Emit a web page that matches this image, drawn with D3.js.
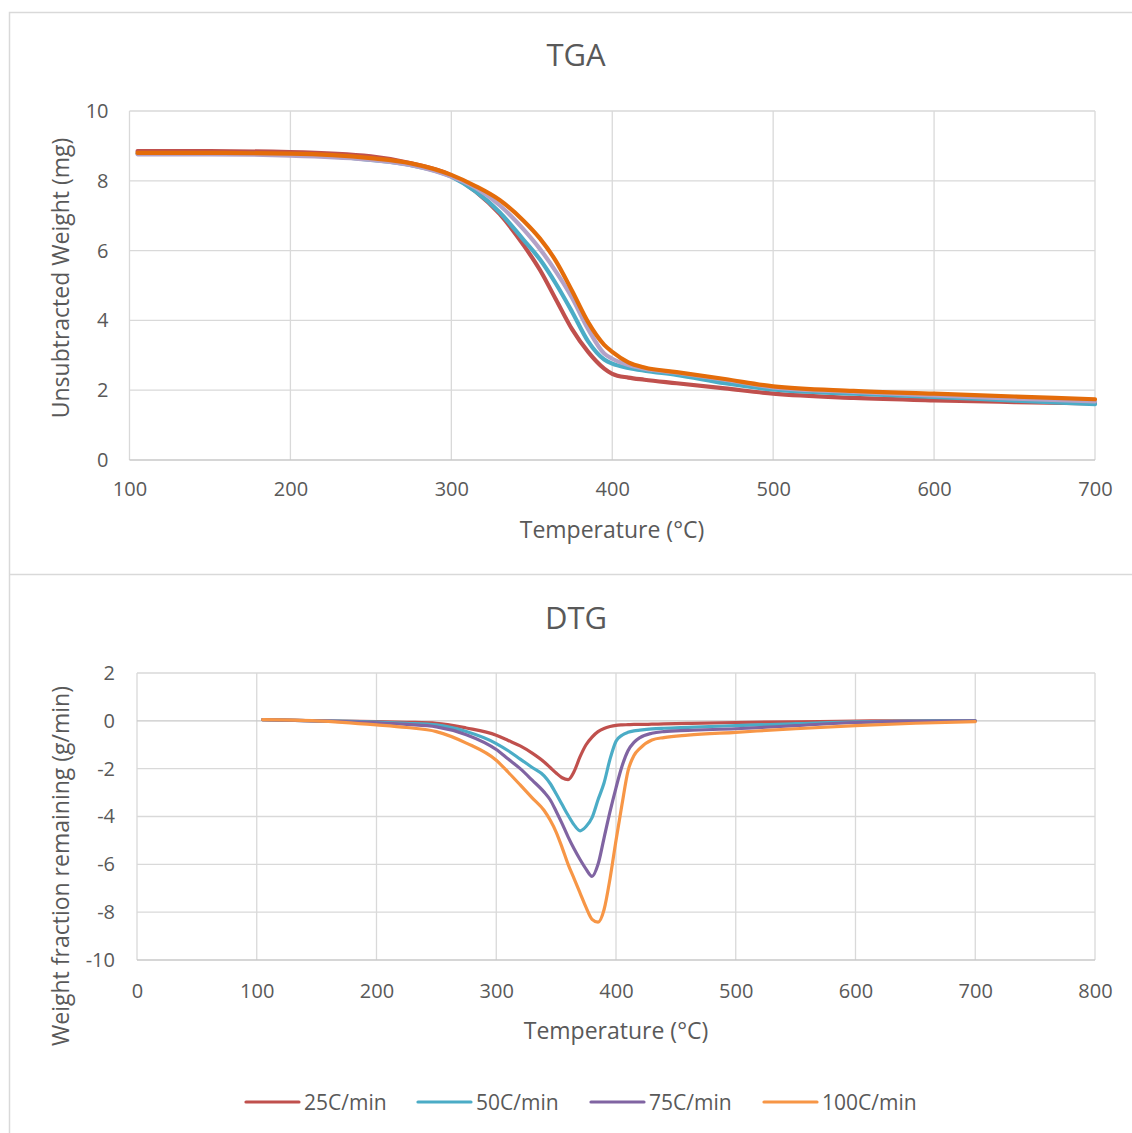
<!DOCTYPE html>
<html>
<head>
<meta charset="utf-8">
<script src="https://cdn.jsdelivr.net/npm/d3@7"></script>
<style>
  body { margin: 0; background: #fff; }
  text { font-family: "Open Sans", sans-serif; fill: #595959; }
</style>
</head>
<body>
<svg id="chart" width="1132" height="1133"></svg>
<script>
// series labels
const seriesNames = ['25C/min', '50C/min', '75C/min', '100C/min'];

// TGA: temperature (°C) vs unsubtracted weight (mg)
const tgaTemps = [105, 150, 200, 250, 275, 300, 315, 330, 345, 355, 365, 375, 385, 395, 400, 410, 420, 440, 470, 500, 550, 600, 650, 700];
const tga25  = [8.85, 8.85, 8.82, 8.70, 8.50, 8.15, 7.70, 7.05, 6.15, 5.45, 4.60, 3.75, 3.10, 2.62, 2.47, 2.36, 2.30, 2.20, 2.05, 1.90, 1.78, 1.71, 1.66, 1.62];
const tga50  = [8.78, 8.78, 8.75, 8.60, 8.45, 8.12, 7.70, 7.10, 6.30, 5.75, 5.05, 4.25, 3.40, 2.88, 2.76, 2.64, 2.56, 2.44, 2.20, 2.02, 1.90, 1.81, 1.70, 1.60];
const tga75  = [8.76, 8.76, 8.72, 8.60, 8.45, 8.12, 7.80, 7.30, 6.60, 6.05, 5.40, 4.65, 3.75, 3.05, 2.90, 2.72, 2.62, 2.50, 2.30, 2.08, 1.95, 1.85, 1.76, 1.68];
const tga100 = [8.80, 8.80, 8.78, 8.65, 8.50, 8.17, 7.85, 7.45, 6.85, 6.35, 5.70, 4.85, 3.95, 3.30, 3.10, 2.80, 2.65, 2.52, 2.32, 2.11, 1.98, 1.90, 1.82, 1.74];

// DTG: temperature (°C) vs weight fraction remaining (g/min)
const dtgTemps = [105, 150, 200, 225, 250, 275, 300, 310, 320, 330, 340, 345, 350, 355, 360, 365, 370, 375, 380, 385, 390, 395, 400, 405, 410, 415, 420, 430, 440, 460, 500, 550, 600, 650, 700];
const dtg25  = [0.05, 0.00, -0.03, -0.06, -0.10, -0.30, -0.60, -0.82, -1.05, -1.35, -1.72, -1.95, -2.18, -2.38, -2.46, -2.12, -1.50, -1.00, -0.68, -0.45, -0.32, -0.24, -0.19, -0.17, -0.16, -0.15, -0.15, -0.14, -0.13, -0.11, -0.07, -0.04, -0.01, 0.00, 0.00];
const dtg50  = [0.05, 0.00, -0.05, -0.10, -0.17, -0.45, -0.95, -1.25, -1.60, -1.95, -2.30, -2.62, -3.05, -3.50, -3.95, -4.35, -4.60, -4.42, -4.05, -3.30, -2.60, -1.60, -0.85, -0.60, -0.48, -0.42, -0.39, -0.34, -0.31, -0.27, -0.20, -0.12, -0.04, -0.01, 0.00];
const dtg75  = [0.05, 0.00, -0.08, -0.15, -0.25, -0.58, -1.20, -1.60, -2.00, -2.48, -2.98, -3.30, -3.78, -4.30, -4.85, -5.35, -5.80, -6.20, -6.50, -6.00, -4.90, -3.80, -2.80, -1.90, -1.25, -0.90, -0.70, -0.52, -0.45, -0.40, -0.33, -0.20, -0.07, -0.02, 0.00];
const dtg100 = [0.05, 0.00, -0.17, -0.28, -0.45, -0.93, -1.65, -2.15, -2.68, -3.22, -3.75, -4.15, -4.65, -5.30, -6.00, -6.60, -7.20, -7.80, -8.30, -8.42, -7.90, -6.60, -5.00, -3.50, -2.10, -1.45, -1.15, -0.80, -0.70, -0.60, -0.48, -0.33, -0.20, -0.10, -0.03];

// tick values
const tgaXTicks = [100, 200, 300, 400, 500, 600, 700];
const tgaYTicks = [0, 2, 4, 6, 8, 10];
const dtgXTicks = [0, 100, 200, 300, 400, 500, 600, 700, 800];
const dtgYTicks = [-10, -8, -6, -4, -2, 0, 2];

const tgaColors = ['#c0504d', '#4bacc6', '#b3a2c7', '#e46c0a'];
const dtgColors = ['#c0504d', '#4bacc6', '#8064a2', '#f79646'];

const svg = d3.select('#chart');

// panel borders
svg.append('rect')
    .attr('x', 9.5).attr('y', 12.5)
    .attr('width', 1140).attr('height', 1140)
    .attr('fill', 'none').attr('stroke', '#d9d9d9').attr('stroke-width', 1.5);
svg.append('line')
    .attr('x1', 9.5).attr('x2', 1132).attr('y1', 574.5).attr('y2', 574.5)
    .attr('stroke', '#d9d9d9').attr('stroke-width', 1.5);

function drawPanel(cfg) {
    const x = d3.scaleLinear().domain(cfg.xDomain).range([cfg.left, cfg.right]);
    const y = d3.scaleLinear().domain(cfg.yDomain).range([cfg.bottom, cfg.top]);
    const g = svg.append('g');

    // gridlines
    g.append('g').selectAll('line').data(cfg.xTicks).enter().append('line')
        .attr('x1', d => x(d)).attr('x2', d => x(d))
        .attr('y1', cfg.top).attr('y2', cfg.bottom)
        .attr('stroke', '#d9d9d9').attr('stroke-width', 1.3);
    g.append('g').selectAll('line').data(cfg.yTicks).enter().append('line')
        .attr('x1', cfg.left).attr('x2', cfg.right)
        .attr('y1', d => y(d)).attr('y2', d => y(d))
        .attr('stroke', d => (d === cfg.yDomain[0] || d === 0) ? '#c8c8c8' : '#d9d9d9')
        .attr('stroke-width', 1.3);

    // axes (labels only)
    const xAxis = g.append('g')
        .attr('transform', 'translate(0,' + cfg.bottom + ')')
        .call(d3.axisBottom(x).tickValues(cfg.xTicks).tickSize(0).tickPadding(cfg.xPad).tickFormat(d => String(d)));
    const yAxis = g.append('g')
        .attr('transform', 'translate(' + cfg.left + ',0)')
        .call(d3.axisLeft(y).tickValues(cfg.yTicks).tickSize(0).tickPadding(cfg.yPad).tickFormat(d => String(d)));
    [xAxis, yAxis].forEach(a => {
        a.select('.domain').remove();
        a.selectAll('text').style('font-family', '"Open Sans", sans-serif')
            .style('font-size', '20px').attr('fill', '#595959');
    });

    // series
    const line = d3.line()
        .x((d, i) => x(cfg.temps[i]))
        .y(d => y(d))
        .curve(d3.curveMonotoneX);
    cfg.series.forEach((s, i) => {
        g.append('path')
            .datum(s)
            .attr('d', line)
            .attr('fill', 'none')
            .attr('stroke', cfg.colors[i])
            .attr('stroke-width', cfg.lineWidth)
            .attr('stroke-linejoin', 'round')
            .attr('stroke-linecap', 'round');
    });

    // titles
    g.append('text')
        .attr('x', 576).attr('y', cfg.titleY)
        .attr('text-anchor', 'middle').style('font-size', '31px')
        .text(cfg.title);
    g.append('text')
        .attr('x', cfg.xTitleX).attr('y', cfg.xTitleY)
        .attr('text-anchor', 'middle').style('font-size', '23px')
        .text('Temperature (°C)');
    g.append('text')
        .attr('transform', 'translate(69,' + cfg.yTitleY + ') rotate(-90)')
        .attr('text-anchor', 'middle').style('font-size', '23px')
        .text(cfg.yTitle);
}

drawPanel({
    title: 'TGA', titleY: 66,
    xDomain: [100, 700], yDomain: [0, 10],
    left: 129.5, right: 1095, top: 111, bottom: 460,
    xTicks: tgaXTicks, yTicks: tgaYTicks, xPad: 22, yPad: 21,
    temps: tgaTemps, series: [tga25, tga50, tga75, tga100],
    colors: tgaColors, lineWidth: 4.2,
    xTitleX: 612, xTitleY: 538,
    yTitle: 'Unsubtracted Weight (mg)', yTitleY: 278
});

drawPanel({
    title: 'DTG', titleY: 629,
    xDomain: [0, 800], yDomain: [-10, 2],
    left: 137, right: 1095, top: 673, bottom: 960,
    xTicks: dtgXTicks, yTicks: dtgYTicks, xPad: 24, yPad: 22,
    temps: dtgTemps, series: [dtg25, dtg50, dtg75, dtg100],
    colors: dtgColors, lineWidth: 3.2,
    xTitleX: 616, xTitleY: 1039,
    yTitle: 'Weight fraction remaining (g/min)', yTitleY: 866
});

// legend
const legendX = [246, 418, 591, 764];
const legend = svg.append('g').selectAll('g').data(seriesNames).enter().append('g')
    .attr('transform', (d, i) => 'translate(' + legendX[i] + ',1102)');
legend.append('line')
    .attr('x1', 0).attr('x2', 53).attr('y1', 0).attr('y2', 0)
    .attr('stroke', (d, i) => dtgColors[i]).attr('stroke-width', 3.2)
    .attr('stroke-linecap', 'round');
legend.append('text')
    .attr('x', 58).attr('y', 7.5)
    .style('font-size', '21px')
    .text(d => d);
</script>
</body>
</html>
